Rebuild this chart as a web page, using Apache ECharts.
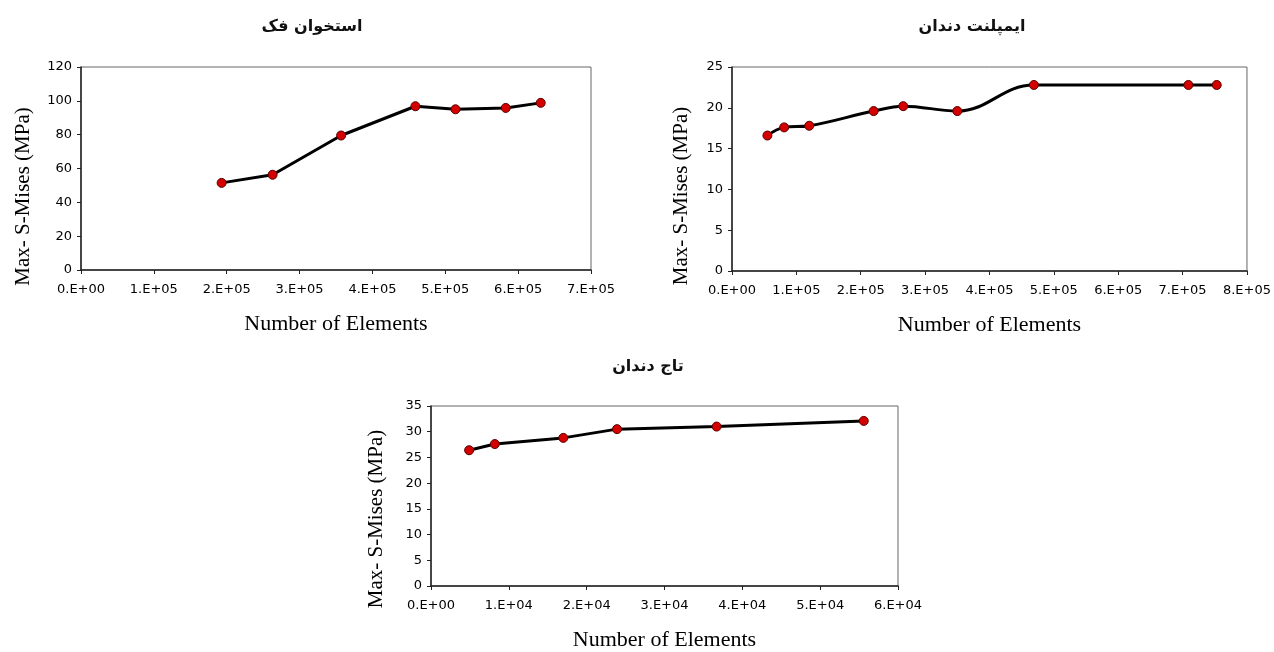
<!DOCTYPE html>
<html>
<head>
<meta charset="utf-8">
<script src="https://cdn.jsdelivr.net/npm/echarts@6/dist/echarts.min.js"></script>
<style>
    html, body { margin: 0; padding: 0; background: #fff; }
    #main { width: 1274px; height: 652px; }
</style>
</head>
<body>
<div id="main"></div>
<script>
// 数据 - jaw bone (استخوان فک)
var jawX = [193000, 263000, 357000, 459000, 514000, 583000, 631000];
var jawY = [51.5, 56.3, 79.5, 96.8, 95.0, 95.8, 98.8];

// implant (ایمپلنت دندان)
var implantX = [55000, 81000, 120000, 220000, 266000, 350000, 469000, 709000, 753000];
var implantY = [16.6, 17.6, 17.8, 19.6, 20.2, 19.6, 22.8, 22.8, 22.8];

// crown (تاج دندان)
var crownX = [4900, 8200, 17000, 23900, 36700, 55600];
var crownY = [26.4, 27.6, 28.8, 30.5, 31.0, 32.1];

var titles = ['استخوان فک', 'ایمپلنت دندان', 'تاج دندان'];
var xName = 'Number of Elements';
var yName = 'Max- S-Mises (MPa)';

var labelFont = 'DejaVu Sans';
var nameFont = 'Liberation Serif';

function pairs(xs, ys) {
    var res = [];
    for (var i = 0; i < xs.length; i++) {
        res.push([xs[i], ys[i]]);
    }
    return res;
}

// excel style 1.E+05
function sciLabel(v) {
    if (v === 0) return '0.E+00';
    var e = Math.floor(Math.log10(v) + 1e-9);
    var m = Math.round(v / Math.pow(10, e));
    return m + '.E+' + (e < 10 ? '0' + e : e);
}

function makeX(idx, max, interval) {
    return {
        gridIndex: idx,
        type: 'value',
        min: 0,
        max: max,
        interval: interval,
        name: xName,
        nameLocation: 'middle',
        nameGap: 43,
        nameTextStyle: { fontFamily: nameFont, fontSize: 22, color: '#000' },
        axisLine: { show: true, lineStyle: { color: '#222', width: 1.5 } },
        axisTick: { show: true, inside: false, length: 4, lineStyle: { color: '#222' } },
        axisLabel: { formatter: sciLabel, fontFamily: labelFont, fontSize: 13, color: '#000', margin: 13 },
        splitLine: { show: false }
    };
}

function makeY(idx, max, interval, gap, shift) {
    return {
        gridIndex: idx,
        type: 'value',
        min: 0,
        max: max,
        interval: interval,
        name: yName,
        nameLocation: 'middle',
        nameGap: gap,
        nameTextStyle: {
            fontFamily: nameFont, fontSize: 21, color: '#000',
            padding: [0, shift * 2, 0, 0]
        },
        axisLine: { show: true, lineStyle: { color: '#222', width: 1.5 } },
        axisTick: { show: true, inside: false, length: 4, lineStyle: { color: '#222' } },
        axisLabel: { fontFamily: labelFont, fontSize: 13, color: '#000', margin: 9 },
        splitLine: { show: false }
    };
}

function makeSeries(idx, data, smooth) {
    return {
        type: 'line',
        xAxisIndex: idx,
        yAxisIndex: idx,
        data: data,
        smooth: smooth,
        symbol: 'circle',
        symbolSize: 9,
        lineStyle: { color: '#000', width: 3 },
        itemStyle: { color: '#d40000', borderColor: '#5a0000', borderWidth: 1 },
        z: 3
    };
}

var myChart = echarts.init(document.getElementById('main'));

var titleStyle = { fontFamily: labelFont, fontSize: 16, fontWeight: 'bold', color: '#111' };

var option = {
    backgroundColor: '#fff',
    animation: false,
    title: [
        { text: titles[0], left: 307, top: 14, textAlign: 'center', textStyle: titleStyle },
        { text: titles[1], left: 967, top: 14, textAlign: 'center', textStyle: titleStyle },
        { text: titles[2], left: 643, top: 354, textAlign: 'center', textStyle: titleStyle }
    ],
    grid: [
        { left: 81, top: 67, width: 510, height: 203, show: true, borderColor: '#666', borderWidth: 1 },
        { left: 732, top: 67, width: 519, height: 204, show: true, borderColor: '#666', borderWidth: 1 },
        { left: 431, top: 406, width: 467, height: 186, show: true, borderColor: '#666', borderWidth: 1 }
    ],
    xAxis: [
        makeX(0, 700000, 100000),
        makeX(1, 800000, 100000),
        makeX(2, 60000, 10000)
    ],
    yAxis: [
        makeY(0, 120, 20, 47, 28),
        makeY(1, 25, 5, 40, 27),
        makeY(2, 35, 5, 44, 23)
    ],
    series: [
        makeSeries(0, pairs(jawX, jawY), false),
        makeSeries(1, pairs(implantX, implantY), 0.4),
        makeSeries(2, pairs(crownX, crownY), false)
    ]
};

myChart.setOption(option);
</script>
</body>
</html>
